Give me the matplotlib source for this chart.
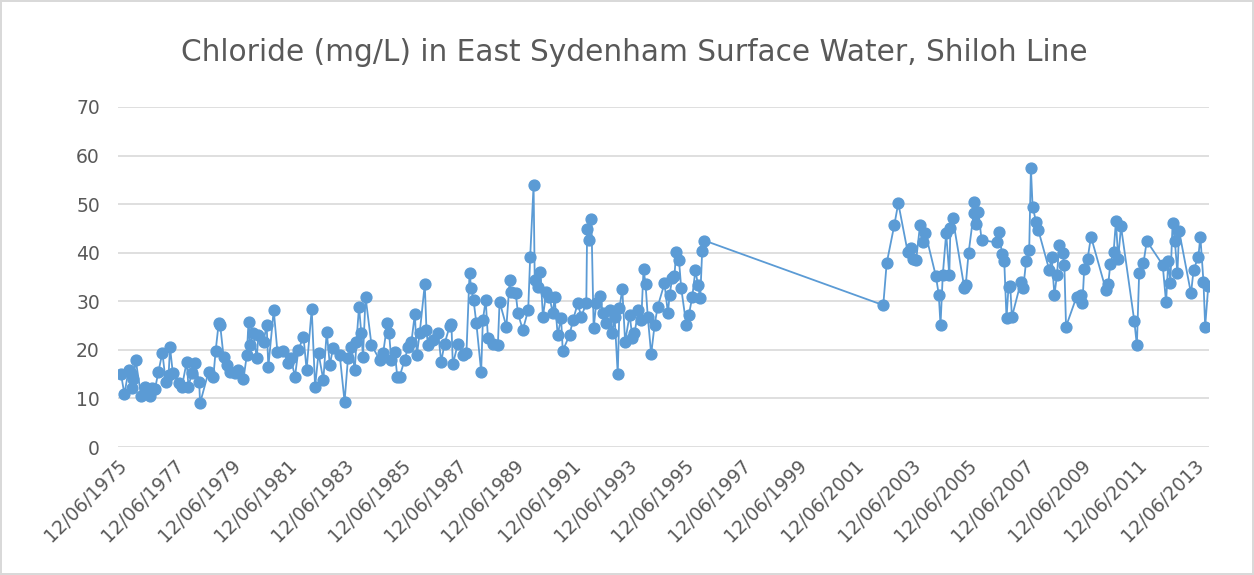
import numpy as np
import matplotlib.pyplot as plt
from matplotlib.transforms import ScaledTranslation

# sample dates as decimal years, chloride in mg/L
years_1975_1982 = [1975.28, 1975.40, 1975.55, 1975.63, 1975.66, 1975.72, 1975.80, 1975.99,
                   1976.13, 1976.29, 1976.37, 1976.48, 1976.60, 1976.74, 1976.86, 1976.96,
                   1977.01, 1977.11, 1977.31, 1977.43, 1977.60, 1977.66, 1977.78, 1977.89,
                   1978.04, 1978.07, 1978.37, 1978.54, 1978.62, 1978.73, 1978.78, 1978.90,
                   1979.01, 1979.13, 1979.30, 1979.42, 1979.60, 1979.72, 1979.78, 1979.83,
                   1979.95, 1980.07, 1980.13, 1980.31, 1980.42, 1980.48, 1980.67, 1980.80,
                   1981.01, 1981.19, 1981.27, 1981.42, 1981.54, 1981.72, 1981.83, 1982.01,
                   1982.13, 1982.25, 1982.42, 1982.54]
chloride_1975_1982 = [15.0, 10.9, 15.9, 15.2, 12.1, 14.0, 17.9, 10.5,
                      12.4, 10.4, 12.1, 11.9, 15.5, 19.4, 13.4, 14.8,
                      20.5, 15.2, 13.2, 12.4, 17.6, 12.4, 15.2, 17.2,
                      13.4, 9.0, 15.5, 14.5, 19.8, 25.6, 25.1, 18.6,
                      16.9, 15.5, 15.2, 15.9, 13.9, 18.9, 25.8, 21.0,
                      23.4, 18.3, 23.1, 21.7, 25.1, 16.5, 28.2, 19.6,
                      19.8, 17.2, 18.3, 14.5, 20.0, 22.7, 15.9, 28.4,
                      12.4, 19.3, 13.8, 23.7]

years_1982_1990 = [1982.65, 1982.76, 1983.00, 1983.17, 1983.29, 1983.41, 1983.53, 1983.59,
                   1983.68, 1983.76, 1983.82, 1983.91, 1984.12, 1984.41, 1984.53, 1984.68,
                   1984.74, 1984.82, 1984.94, 1985.03, 1985.11, 1985.29, 1985.41, 1985.53,
                   1985.65, 1985.72, 1985.82, 1986.00, 1986.06, 1986.11, 1986.29, 1986.47,
                   1986.58, 1986.70, 1986.88, 1986.94, 1986.99, 1987.17, 1987.35, 1987.47,
                   1987.58, 1987.64, 1987.72, 1987.82, 1987.99, 1988.05, 1988.15, 1988.23,
                   1988.41, 1988.58, 1988.64, 1988.88, 1989.00, 1989.03, 1989.21, 1989.29,
                   1989.46, 1989.65, 1989.72, 1989.84, 1989.88, 1990.00, 1990.08, 1990.17,
                   1990.29]
chloride_1982_1990 = [16.9, 20.3, 18.9, 9.3, 18.3, 20.6, 15.9, 21.7,
                      28.9, 23.4, 18.6, 30.9, 21.0, 17.9, 19.3, 25.5,
                      23.4, 17.9, 19.6, 14.5, 14.5, 17.9, 20.6, 21.7,
                      27.4, 18.9, 23.4, 33.5, 24.1, 21.0, 22.0, 23.4,
                      17.6, 21.3, 24.9, 25.3, 17.0, 21.3, 18.9, 19.3,
                      35.8, 32.7, 30.3, 25.5, 15.5, 26.1, 30.3, 22.4,
                      21.3, 21.0, 29.9, 24.8, 34.4, 32.0, 31.6, 27.5,
                      24.1, 28.2, 39.1, 53.9, 34.4, 33.0, 36.1, 26.8,
                      32.0]

years_1990_1995 = [1990.40, 1990.52, 1990.58, 1990.69, 1990.81, 1990.87, 1991.11, 1991.23,
                   1991.40, 1991.52, 1991.70, 1991.73, 1991.79, 1991.88, 1991.96, 1992.05,
                   1992.20, 1992.28, 1992.40, 1992.52, 1992.62, 1992.70, 1992.81, 1992.87,
                   1992.97, 1993.07, 1993.23, 1993.33, 1993.40, 1993.54, 1993.64, 1993.72,
                   1993.79, 1993.87, 1993.99, 1994.11, 1994.22, 1994.46, 1994.58, 1994.64,
                   1994.73, 1994.81, 1994.87, 1994.97, 1995.05, 1995.23, 1995.32, 1995.44,
                   1995.55, 1995.64, 1995.72, 1995.79, 1995.87]
chloride_1990_1995 = [30.9, 27.5, 30.9, 23.1, 26.5, 19.8, 23.1, 26.1,
                      29.6, 26.8, 29.6, 44.8, 42.6, 46.9, 24.4, 29.6,
                      31.1, 27.5, 25.5, 28.2, 23.4, 26.8, 15.0, 28.6,
                      32.5, 21.7, 27.2, 22.4, 23.4, 28.2, 26.1, 36.6,
                      33.6, 26.8, 19.1, 25.1, 28.9, 33.7, 27.5, 31.3,
                      34.7, 35.1, 40.2, 38.5, 32.7, 25.1, 27.2, 30.9,
                      36.4, 33.4, 30.6, 40.4, 42.5]

years_2002_2008 = [2002.18, 2002.30, 2002.57, 2002.71, 2003.04, 2003.16, 2003.22, 2003.34,
                   2003.48, 2003.57, 2003.67, 2004.04, 2004.14, 2004.20, 2004.28, 2004.40,
                   2004.51, 2004.55, 2004.63, 2005.04, 2005.09, 2005.19, 2005.37, 2005.39,
                   2005.47, 2005.54, 2005.65, 2006.19, 2006.27, 2006.37, 2006.45, 2006.53,
                   2006.60, 2006.66, 2006.72, 2007.04, 2007.12, 2007.22, 2007.33, 2007.39,
                   2007.45, 2007.57, 2007.65, 2008.04]
chloride_2002_2008 = [29.2, 37.8, 45.7, 50.2, 40.2, 40.9, 38.8, 38.5,
                      45.8, 42.3, 44.0, 35.1, 31.3, 25.1, 35.4, 44.0,
                      35.4, 45.0, 47.2, 32.8, 33.3, 39.9, 48.1, 50.4,
                      46.0, 48.3, 42.6, 42.1, 44.2, 39.7, 38.2, 26.5,
                      33.0, 33.2, 26.8, 34.0, 32.7, 38.2, 40.6, 57.4,
                      49.5, 46.4, 44.7, 36.4]

years_2008_2013 = [2008.12, 2008.22, 2008.31, 2008.39, 2008.51, 2008.57, 2008.63, 2009.00,
                   2009.16, 2009.21, 2009.27, 2009.39, 2009.51, 2010.04, 2010.12, 2010.19,
                   2010.31, 2010.39, 2010.47, 2010.57, 2011.04, 2011.13, 2011.21, 2011.36,
                   2011.48, 2012.04, 2012.16, 2012.24, 2012.31, 2012.39, 2012.47, 2012.56,
                   2012.62, 2013.04, 2013.13, 2013.30, 2013.37, 2013.48, 2013.54, 2013.65]
chloride_2008_2013 = [39.2, 31.3, 35.4, 41.6, 39.9, 37.5, 24.8, 30.9,
                      31.3, 29.6, 36.6, 38.7, 43.3, 32.3, 33.5, 37.6,
                      40.2, 46.5, 38.8, 45.4, 25.9, 20.9, 35.8, 37.8,
                      42.4, 37.5, 29.8, 38.3, 33.7, 46.1, 42.4, 35.8,
                      44.5, 31.6, 36.4, 39.2, 43.3, 34.0, 24.8, 33.2]

tick_years = list(range(1975, 2014, 2))
tick_labels = [f"12/06/{y}" for y in tick_years]

years = np.array(years_1975_1982 + years_1982_1990 + years_1990_1995
                 + years_2002_2008 + years_2008_2013)
chloride = np.array(chloride_1975_1982 + chloride_1982_1990 + chloride_1990_1995
                    + chloride_2002_2008 + chloride_2008_2013)

blue = "#5B9BD5"
grey_txt = "#595959"

fig = plt.figure(figsize=(12.54, 5.75), dpi=100)
fig.patch.set_edgecolor("#d9d9d9")
fig.patch.set_linewidth(1.5)
ax = fig.add_axes([0.094, 0.2226, 0.870, 0.5914])

ax.plot(years, chloride, color=blue, lw=1.3, marker="o", ms=7.8,
        markerfacecolor=blue, markeredgecolor=blue, zorder=3)

ax.set_ylim(0, 70)
ax.set_yticks(range(0, 71, 10))
ax.set_xlim(1975.17, 2013.67)
ax.set_xticks([y + 0.45 for y in tick_years])
ax.set_xticklabels(tick_labels, rotation=45, ha="right", rotation_mode="anchor")
ax.grid(axis="y", color="#d9d9d9", lw=1.2)
ax.set_axisbelow(True)
for s in ax.spines.values():
    s.set_visible(False)
ax.tick_params(axis="both", length=0, labelsize=13.5, colors=grey_txt)
ax.tick_params(axis="y", pad=13)
ax.tick_params(axis="x", pad=6)
shift = ScaledTranslation(-6 / 72, 0, fig.dpi_scale_trans)
for lbl in ax.get_xticklabels():
    lbl.set_transform(lbl.get_transform() + shift)

fig.text(0.506, 0.908, "Chloride (mg/L) in East Sydenham Surface Water, Shiloh Line",
         ha="center", va="center", fontsize=21.3, color=grey_txt)

fig.savefig("out.png", dpi=100)
